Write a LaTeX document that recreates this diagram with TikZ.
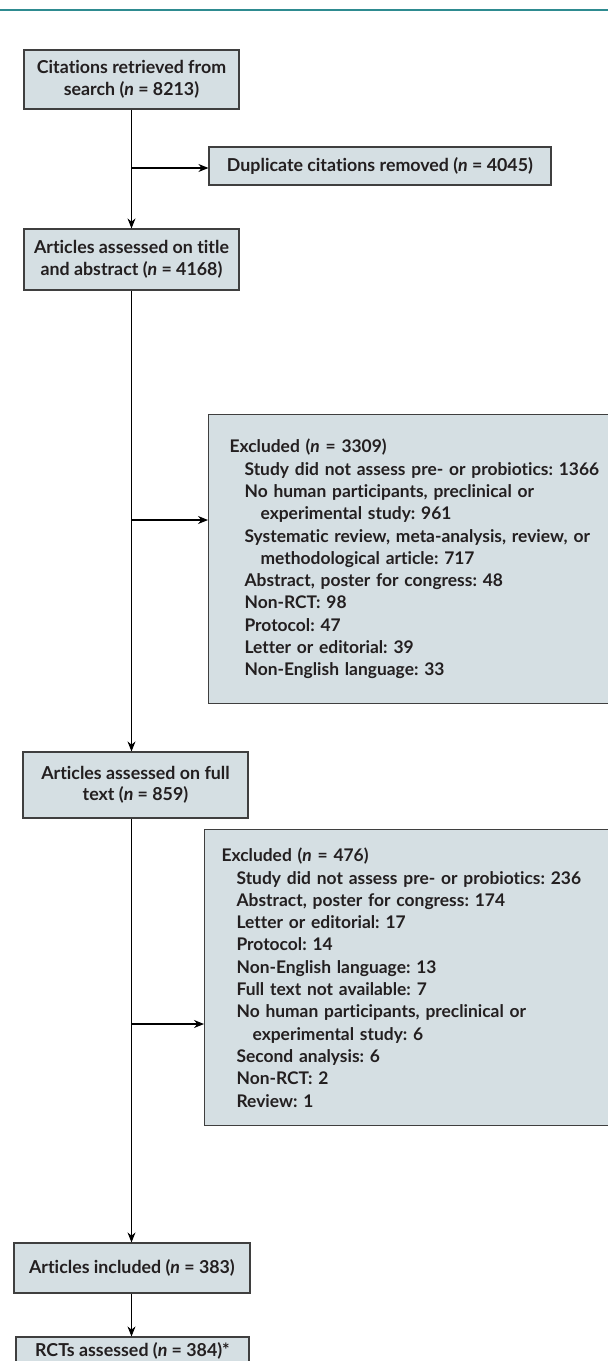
\documentclass[tikz,border=0pt]{standalone}
\usepackage{fontspec}
\setmainfont{Lato}[Ligatures=NoCommon]
\usetikzlibrary{arrows.meta}

\definecolor{boxfill}{HTML}{D5DFE3}
\definecolor{boxline}{HTML}{3F3F3F}
\definecolor{ink}{HTML}{231F20}
\definecolor{rule}{HTML}{2E8B90}

\newcommand{\lvlone}{\hspace*{15pt}}
\newcommand{\lvltwo}{\hspace*{31pt}}

\begin{document}
\frenchspacing
\begin{tikzpicture}[x=1pt,y=-1pt,
    box/.style={draw=boxline, fill=boxfill, line width=1.2pt, inner sep=0pt,
        align=center, text=ink, font=\bfseries\fontsize{17.8}{21.5}\selectfont},
    exclbox/.style={box, anchor=north west, align=left, inner ysep=0pt,
        font=\bfseries\fontsize{17.4}{22.3}\selectfont},
    arr/.style={-{Stealth[length=10pt,width=8pt]}, line width=1.1pt, draw=black}]

    % Page frame and the rule at the top
    \useasboundingbox (0,0) rectangle (608,1361);
    \clip (0,0) rectangle (608,1361);
    \draw[rule, line width=2pt] (0,10) -- (608,10);

    % Main column
    \node[box, minimum width=215pt, minimum height=59pt] (search) at (131.5,79.5)
        {Citations retrieved from\\search (\textit{n} = 8213)};
    \node[box, minimum width=215pt, minimum height=61pt] (screen) at (131.5,259.5)
        {Articles assessed on title\\and abstract (\textit{n} = 4168)};
    \node[box, minimum width=225pt, minimum height=66pt] (fulltext) at (135.5,785)
        {Articles assessed on full\\text (\textit{n} = 859)};
    \node[box, minimum width=236pt, minimum height=50pt] (included) at (132,1268)
        {Articles included (\textit{n} = 383)};
    \node[box, minimum width=233pt, minimum height=28pt] (rcts) at (132.5,1351)
        {RCTs assessed (\textit{n} = 384)*};

    % Side boxes
    \node[box, minimum width=342pt, minimum height=38pt] (dupes) at (380,166)
        {Duplicate citations removed (\textit{n} = 4045)};
    \node[exclbox, minimum height=289pt, inner xsep=21pt,
        text width=420pt] (exclA) at (208,414)
        {Excluded (\textit{n} = 3309)\\
        \lvlone Study did not assess pre- or probiotics: 1366\\
        \lvlone No human participants, preclinical or\\
        \lvltwo experimental study: 961\\
        \lvlone Systematic review, meta-analysis, review, or\\
        \lvltwo methodological article: 717\\
        \lvlone Abstract, poster for congress: 48\\
        \lvlone Non-RCT: 98\\
        \lvlone Protocol: 47\\
        \lvlone Letter or editorial: 39\\
        \lvlone Non-English language: 33};
    \node[exclbox, minimum height=296pt, inner xsep=17pt,
        text width=420pt] (exclB) at (204,829)
        {Excluded (\textit{n} = 476)\\
        \lvlone Study did not assess pre- or probiotics: 236\\
        \lvlone Abstract, poster for congress: 174\\
        \lvlone Letter or editorial: 17\\
        \lvlone Protocol: 14\\
        \lvlone Non-English language: 13\\
        \lvlone Full text not available: 7\\
        \lvlone No human participants, preclinical or\\
        \lvltwo experimental study: 6\\
        \lvlone Second analysis: 6\\
        \lvlone Non-RCT: 2\\
        \lvlone Review: 1};

    % Branch points on the main line
    \coordinate (brA) at (131,168);
    \coordinate (brB) at (131,520);
    \coordinate (brC) at (131,1024);

    % Connectors
    \draw[arr] (search.south) -- (screen.north);
    \draw[arr] (brA) -- (brA -| dupes.west);
    \draw[arr] (screen.south) -- (screen.south |- fulltext.north);
    \draw[arr] (brB) -- (brB -| exclA.west);
    \draw[arr] (screen.south |- fulltext.south) -- (screen.south |- included.north);
    \draw[arr] (brC) -- (brC -| exclB.west);
    \draw[arr, line width=0.8pt] (screen.south |- included.south) -- (screen.south |- rcts.north);
\end{tikzpicture}
\end{document}
